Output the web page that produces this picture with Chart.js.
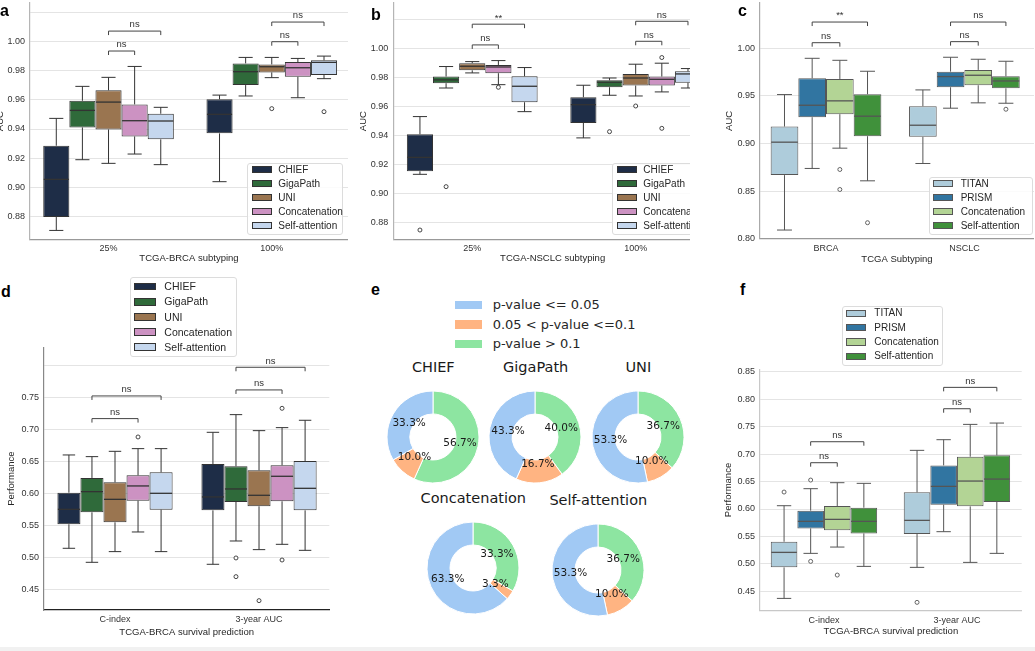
<!DOCTYPE html>
<html><head><meta charset="utf-8">
<script src="https://cdn.jsdelivr.net/npm/chart.js@4.4.1/dist/chart.umd.min.js"></script>
<style>
html,body{margin:0;padding:0;background:#fff;}
#root{position:relative;width:1035px;height:651px;overflow:hidden;background:#fff;font-family:"Liberation Sans",Arial,sans-serif;}
canvas{position:absolute;}
.clip{position:absolute;overflow:hidden;}
.lg{position:absolute;border:1px solid #dcdcdc;border-radius:3px;background:rgba(255,255,255,0.85);box-sizing:border-box;}
.lgrow{position:absolute;white-space:nowrap;color:#262626;}
.sw{position:absolute;box-sizing:border-box;}
.plabel{position:absolute;font-weight:bold;font-size:16px;color:#000;line-height:16px;font-family:"Liberation Sans",Arial,sans-serif;}
.ctext{position:absolute;white-space:nowrap;transform:translate(-50%,-50%);line-height:1.2;color:#1a1a1a;}
</style></head><body><div id="root"></div>
<script>
// ---------------- DATA ----------------
const fmSeries = ['CHIEF','GigaPath','UNI','Concatenation','Self-attention'];
const slideSeries = ['TITAN','PRISM','Concatenation','Self-attention'];

// Panel a: TCGA-BRCA subtyping (per series: [25%, 100%])
const aGroups = ['25%','100%'];
const aLow  = [[0.8703,0.9038],[0.9189,0.9627],[0.9164,0.9753],[0.9228,0.9615],[0.9155,0.9746]];
const aQ1   = [[0.8795,0.9370],[0.9411,0.9702],[0.9397,0.9789],[0.9349,0.9759],[0.9329,0.9771]];
const aMed  = [[0.9054,0.9501],[0.9528,0.9794],[0.9585,0.9828],[0.9457,0.9821],[0.9455,0.9858]];
const aQ3   = [[0.9285,0.9604],[0.9594,0.9851],[0.9666,0.9844],[0.9569,0.9860],[0.9505,0.9872]];
const aHigh = [[0.9473,0.9633],[0.9693,0.9892],[0.9755,0.9892],[0.9830,0.9885],[0.9549,0.9901]];
const aOut  = [[[],[]],[[],[]],[[],[0.9540]],[[],[]],[[],[0.9519]]];
const aTickVals = [0.88,0.90,0.92,0.94,0.96,0.98,1.00,1.02];
const aTickText = ['0.88','0.90','0.92','0.94','0.96','0.98','1.00',''];
const aSig = [[0,2,3,0.9936,'ns'],[0,2,4,1.0073,'ns'],[1,2,3,1.0000,'ns'],[1,2,4,1.0135,'ns']];

// Panel b: TCGA-NSCLC subtyping
const bGroups = ['25%','100%'];
const bLow  = [[0.9131,0.9382],[0.9726,0.9676],[0.9830,0.9671],[0.9749,0.9699],[0.9563,0.9726]];
const bQ1   = [[0.9152,0.9485],[0.9759,0.9731],[0.9848,0.9743],[0.9828,0.9743],[0.9628,0.9763]];
const bMed  = [[0.9248,0.9611],[0.9782,0.9766],[0.9876,0.9795],[0.9871,0.9786],[0.9738,0.9823]];
const bQ3   = [[0.9407,0.9662],[0.9805,0.9779],[0.9897,0.9823],[0.9885,0.9805],[0.9807,0.9841]];
const bHigh = [[0.9529,0.9745],[0.9874,0.9795],[0.9908,0.9890],[0.9915,0.9897],[0.9867,0.9860]];
const bOut  = [[[0.8747],[]],[[0.9046],[0.9425]],[[],[0.9602]],[[0.9731],[0.9936,0.9448]],[[],[]]];
const bTickVals = [0.88,0.90,0.92,0.94,0.96,0.98,1.00,1.02];
const bTickText = ['0.88','0.90','0.92','0.94','0.96','0.98','1.00',''];
const bSig = [[0,2,3,1.0023,'ns'],[0,2,4,1.0166,'**'],[1,2,3,1.0048,'ns'],[1,2,4,1.0186,'ns']];

// Panel c: TCGA Subtyping (slide-level)
const cGroups = ['BRCA','NSCLC'];
const cLow  = [[0.8091,0.8790],[0.8738,0.9371],[0.8951,0.9427],[0.8608,0.9423]];
const cQ1   = [[0.8668,0.9070],[0.9276,0.9591],[0.9308,0.9612],[0.9077,0.9580]];
const cMed  = [[0.9014,0.9192],[0.9402,0.9703],[0.9448,0.9717],[0.9287,0.9657]];
const cQ3   = [[0.9178,0.9392],[0.9685,0.9755],[0.9678,0.9773],[0.9517,0.9706]];
const cHigh = [[0.9514,0.9563],[0.9895,0.9906],[0.9874,0.9885],[0.9759,0.9864]];
const cOut  = [[[],[]],[[],[]],[[0.8727,0.8517],[]],[[0.8168],[0.9360]]];
const cTickVals = [0.80,0.85,0.90,0.95,1.00];
const cTickText = ['0.80','0.85','0.90','0.95','1.00'];
const cSig = [[0,1,2,1.0059,'ns'],[0,1,3,1.0276,'**'],[1,1,2,1.0070,'ns'],[1,1,3,1.0276,'ns']];

// Panel d: TCGA-BRCA survival prediction (patch-level FMs)
const dGroups = ['C-index','3-year AUC'];
const dLow  = [[0.5141,0.4891],[0.4922,0.5255],[0.5089,0.5120],[0.5396,0.5203],[0.5089,0.5109]];
const dQ1   = [[0.5516,0.5734],[0.5703,0.5865],[0.5547,0.5797],[0.5885,0.5875],[0.5745,0.5734]];
const dMed  = [[0.5750,0.5943],[0.6026,0.6068],[0.5906,0.5969],[0.6115,0.6266],[0.6000,0.6078]];
const dQ3   = [[0.6010,0.6458],[0.6240,0.6422],[0.6172,0.6359],[0.6281,0.6438],[0.6328,0.6505]];
const dHigh = [[0.6599,0.6953],[0.6573,0.7229],[0.6656,0.6979],[0.6698,0.7026],[0.6698,0.7141]];
const dOut  = [[[],[]],[[],[0.4990,0.4698]],[[],[0.4323]],[[0.6880],[0.7328,0.4958]],[[],[]]];
const dTickVals = [0.45,0.50,0.55,0.60,0.65,0.70,0.75,0.80];
const dTickText = ['0.45','0.50','0.55','0.60','0.65','0.70','0.75',''];
const dSig = [[0,1,3,0.7167,'ns'],[0,1,4,0.7521,'ns'],[1,1,3,0.7615,'ns'],[1,1,4,0.7969,'ns']];

// Panel e: p-value shares (%)
const eModels = ['CHIEF','GigaPath','UNI','Concatenation','Self-attention'];
const eCats = ['p-value <= 0.05','0.05 < p-value <=0.1','p-value > 0.1'];
const eSig05 = [33.3,43.3,53.3,63.3,53.3];
const eSig10 = [10.0,16.7,10.0,3.3,10.0];
const eNonSig = [56.7,40.0,36.7,33.3,36.7];

// Panel f: TCGA-BRCA survival prediction (slide-level FMs)
const fGroups = ['C-index','3-year AUC'];
const fLow  = [[0.4372,0.4937],[0.5192,0.5587],[0.5307,0.5028],[0.4955,0.5192]];
const fQ1   = [[0.4937,0.5544],[0.5647,0.6078],[0.5611,0.6048],[0.5556,0.6127]];
const fMed  = [[0.5210,0.5793],[0.5775,0.6412],[0.5811,0.6509],[0.5775,0.6545]];
const fQ3   = [[0.5404,0.6303],[0.5969,0.6794],[0.6054,0.6952],[0.6024,0.6977]];
const fHigh = [[0.6060,0.7068],[0.6370,0.7262],[0.6479,0.7541],[0.6467,0.7565]];
const fOut  = [[[0.6309],[0.4300]],[[0.6527,0.5046],[]],[[0.4797],[]],[[],[]]];
const fTickVals = [0.45,0.50,0.55,0.60,0.65,0.70,0.75,0.80,0.85];
const fTickText = ['0.45','0.50','0.55','0.60','0.65','0.70','0.75','0.80','0.85'];
const fSig = [[0,1,2,0.6843,'ns'],[0,1,3,0.7225,'ns'],[1,1,2,0.7826,'ns'],[1,1,3,0.8215,'ns']];

// ---------------- STYLE ----------------
const FONT = '"Liberation Sans", Arial, Helvetica, sans-serif';
const DJ = '"DejaVu Sans", Verdana, sans-serif';
const fmColors = ['#1e2d47','#2f6a3a','#9a7550','#cc92c2','#c5d7ee'];
const slideColors = ['#aeccdb','#3175a1','#b3d495','#40913b'];
const eColors = ['#a1c9f4','#ffb482','#8de5a1'];

const root = document.getElementById('root');

function addCanvas(parent, x, y, w, h){
  const c = document.createElement('canvas');
  c.width = w; c.height = h;
  Object.assign(c.style,{left:x+'px',top:y+'px',width:w+'px',height:h+'px'});
  parent.appendChild(c);
  return c;
}

function boxPlugin(o){
  return {id:'boxes', afterDatasetsDraw(chart){
    const ctx = chart.ctx, ys = chart.scales.y;
    const py = v => ys.getPixelForValue(v);
    ctx.save();
    o.series.forEach((n,k)=>{
      chart.getDatasetMeta(k).data.forEach((el,j)=>{
        const p = el.getProps(['x','width'], true);
        const x = p.x, w = p.width, cap = w*0.27;
        const hi = py(o.high[k][j]), lo = py(o.low[k][j]), q1 = py(o.q1[k][j]), q3 = py(o.q3[k][j]);
        ctx.strokeStyle = o.line; ctx.lineWidth = 1;
        ctx.beginPath();
        ctx.moveTo(x,q3); ctx.lineTo(x,hi);
        ctx.moveTo(x,q1); ctx.lineTo(x,lo);
        ctx.moveTo(x-cap,hi); ctx.lineTo(x+cap,hi);
        ctx.moveTo(x-cap,lo); ctx.lineTo(x+cap,lo);
        ctx.stroke();
        const m = py(o.med[k][j]);
        ctx.lineWidth = 1.3;
        ctx.beginPath(); ctx.moveTo(x-w/2+0.5,m); ctx.lineTo(x+w/2-0.5,m); ctx.stroke();
        ctx.lineWidth = 0.9;
        o.out[k][j].forEach(v=>{
          ctx.beginPath(); ctx.arc(x,py(v),2,0,Math.PI*2);
          ctx.fillStyle='#fff'; ctx.fill(); ctx.stroke();
        });
      });
    });
    ctx.strokeStyle = '#444'; ctx.lineWidth = 1; ctx.fillStyle = '#333';
    ctx.font = '9.5px '+FONT; ctx.textAlign = 'center'; ctx.textBaseline = 'bottom';
    o.sig.forEach(s=>{
      const g=s[0], h1=s[1], h2=s[2], v=s[3], t=s[4];
      const x1 = chart.getDatasetMeta(h1).data[g].x, x2 = chart.getDatasetMeta(h2).data[g].x, y = py(v);
      ctx.beginPath(); ctx.moveTo(x1,y+4); ctx.lineTo(x1,y); ctx.lineTo(x2,y); ctx.lineTo(x2,y+4); ctx.stroke();
      ctx.fillText(t,(x1+x2)/2,y-1.5);
    });
    ctx.restore();
  }};
}

function boxPanel(o){
  const cv = addCanvas(o.parent, o.x, o.y, o.w, o.h);
  const datasets = o.series.map((name,k)=>({
    type:'bar', label:name,
    data:o.groups.map((g,j)=>({x:j, y:[o.q1[k][j], o.q3[k][j]]})),
    backgroundColor:o.colors[k], borderColor:o.line, borderWidth:1, borderSkipped:false,
    categoryPercentage:0.8, barPercentage:1.0
  }));
  new Chart(cv,{
    type:'bar',
    data:{datasets},
    options:{
      responsive:false, animation:false, events:[],
      layout:{padding:{top:o.padTop,right:o.padRight,left:0,bottom:0}},
      plugins:{legend:{display:false},tooltip:{enabled:false}},
      scales:{
        x:{type:'linear', min:o.xmin, max:o.xmax, offset:false,
          afterBuildTicks:s=>{s.ticks=o.groups.map((g,j)=>({value:j}));},
          afterFit:s=>{s.height=o.xH; s.paddingLeft=0; s.paddingRight=0;},
          ticks:{callback:(v)=>o.groups[v], padding:4, autoSkip:false, maxRotation:0,
                 font:{family:FONT,size:9}, color:'#333'},
          grid:{color:'rgba(0,0,0,0)', drawTicks:false},
          border:{color:o.xSpine, width:1.2},
          title:{display:true, text:o.xTitle, color:'#262626', font:{family:FONT,size:9.5},
                 padding:{top:0,bottom:o.xTitlePad}}
        },
        y:{type:'linear', min:o.ymin, max:o.ymax,
          afterBuildTicks:s=>{s.ticks=o.tickVals.map(v=>({value:v}));},
          afterFit:s=>{s.width=o.yW; s.paddingTop=0; s.paddingBottom=0;},
          ticks:{callback:(v,i)=>o.tickText[i], padding:5, autoSkip:false,
                 font:{family:FONT,size:9}, color:'#333'},
          grid:{color:'#e4e4e4', lineWidth:1, drawTicks:false},
          border:{color:o.ySpine, width:1.2},
          title:{display:true, text:o.yTitle, color:'#262626', font:{family:FONT,size:9.5},
                 padding:{top:o.yTitlePad,bottom:0}}
        }
      }
    },
    plugins:[boxPlugin(o)]
  });
}

function legend(parent, L){
  const d = document.createElement('div');
  d.className = 'lg';
  Object.assign(d.style,{left:L.x+'px',top:L.y+'px',width:L.w+'px',height:L.h+'px'});
  const off = L.noBorder ? 0 : 1;
  if (L.noBorder){ d.style.border='none'; d.style.background='transparent'; }
  L.names.forEach((n,i)=>{
    const cy = L.row0 + i*L.step - L.y - off;
    const sw = document.createElement('div'); sw.className='sw';
    Object.assign(sw.style,{left:(L.swX-L.x-off)+'px',top:(cy-L.swH/2)+'px',width:L.swW+'px',height:L.swH+'px',
      background:L.colors[i], border:L.swBorder});
    const t = document.createElement('div'); t.className='lgrow'; t.textContent=n;
    Object.assign(t.style,{left:(L.txX-L.x-off)+'px',top:(cy-L.fs*0.6)+'px',height:(L.fs*1.2)+'px',
      lineHeight:(L.fs*1.2)+'px',fontSize:L.fs+'px',fontFamily:L.font});
    d.appendChild(sw); d.appendChild(t);
  });
  parent.appendChild(d);
}

function ctext(parent, txt, x, y, size, family){
  const t = document.createElement('div'); t.className='ctext'; t.textContent=txt;
  Object.assign(t.style,{left:x+'px',top:y+'px',fontSize:size+'px',fontFamily:family});
  parent.appendChild(t);
}

function plabel(txt, x, y){
  const t = document.createElement('div'); t.className='plabel'; t.textContent=txt;
  Object.assign(t.style,{left:x+'px',top:y+'px'});
  root.appendChild(t);
}

// ---------------- PANEL a ----------------
boxPanel({parent:root, x:-10, y:0, w:358, h:266, yW:40, xH:26.7, padTop:3, padRight:0,
  xmin:-0.481, xmax:1.467, ymin:0.8642, ymax:1.0266,
  groups:aGroups, series:fmSeries, colors:fmColors, line:'#333',
  low:aLow, q1:aQ1, med:aMed, q3:aQ3, high:aHigh, out:aOut, sig:aSig,
  tickVals:aTickVals, tickText:aTickText, xTitle:'TCGA-BRCA subtyping', yTitle:'AUC',
  yTitlePad:4.8, xTitlePad:2, xSpine:'#999', ySpine:'#b5b5b5'});
legend(root,{x:247.3,y:162.7,w:96,h:72.3,names:fmSeries,colors:fmColors,row0:170,step:14,
  swX:251.7,swW:20,swH:7,txX:278.3,fs:10,font:FONT,swBorder:'1px solid #333'});

// ---------------- PANEL b (clipped at panel c) ----------------
const bClip = document.createElement('div'); bClip.className='clip';
Object.assign(bClip.style,{left:'0px',top:'0px',width:'690px',height:'280px'});
root.appendChild(bClip);
boxPanel({parent:bClip, x:352, y:0, w:360, h:266, yW:41.3, xH:26.7, padTop:3, padRight:0,
  xmin:-0.483, xmax:1.467, ymin:0.8683, ymax:1.0312,
  groups:bGroups, series:fmSeries, colors:fmColors, line:'#333',
  low:bLow, q1:bQ1, med:bMed, q3:bQ3, high:bHigh, out:bOut, sig:bSig,
  tickVals:bTickVals, tickText:bTickText, xTitle:'TCGA-NSCLC subtyping', yTitle:'AUC',
  yTitlePad:5.6, xTitlePad:2, xSpine:'#999', ySpine:'#b5b5b5'});
legend(bClip,{x:611.7,y:162.7,w:96,h:72.3,names:fmSeries,colors:fmColors,row0:170,step:14,
  swX:616.7,swW:20,swH:7,txX:643.3,fs:10,font:FONT,swBorder:'1px solid #333'});

// ---------------- PANEL c ----------------
boxPanel({parent:root, x:718, y:0, w:316, h:266, yW:42, xH:27.3, padTop:3, padRight:0,
  xmin:-0.477, xmax:1.503, ymin:0.80, ymax:1.0476,
  groups:cGroups, series:slideSeries, colors:slideColors, line:'#555',
  low:cLow, q1:cQ1, med:cMed, q3:cQ3, high:cHigh, out:cOut, sig:cSig,
  tickVals:cTickVals, tickText:cTickText, xTitle:'TCGA Subtyping', yTitle:'AUC',
  yTitlePad:5.6, xTitlePad:1.3, xSpine:'#999', ySpine:'#aaa'});
legend(root,{x:929.3,y:176.7,w:103.4,h:58.3,names:slideSeries,colors:slideColors,row0:184,step:14,
  swX:933.3,swW:20,swH:7,txX:960.7,fs:10,font:FONT,swBorder:'1px solid #555'});

// ---------------- PANEL d ----------------
boxPanel({parent:root, x:0, y:340, w:330, h:300, yW:44, xH:30, padTop:7.3, padRight:0.7,
  xmin:-0.493, xmax:1.488, ymin:0.4177, ymax:0.8281,
  groups:dGroups, series:fmSeries, colors:fmColors, line:'#333',
  low:dLow, q1:dQ1, med:dMed, q3:dQ3, high:dHigh, out:dOut, sig:dSig,
  tickVals:dTickVals, tickText:dTickText, xTitle:'TCGA-BRCA survival prediction', yTitle:'Performance',
  yTitlePad:5.3, xTitlePad:2, xSpine:'#222', ySpine:'#888'});
legend(root,{x:130,y:276.7,w:107.3,h:80.6,names:fmSeries,colors:fmColors,row0:286.7,step:15.1,
  swX:134.3,swW:21.4,swH:7.5,txX:164.3,fs:10.5,font:FONT,swBorder:'1px solid #333'});

// ---------------- PANEL f ----------------
boxPanel({parent:root, x:715, y:360, w:315, h:280, yW:45, xH:29.3, padTop:9.3, padRight:8.3,
  xmin:-0.481, xmax:1.487, ymin:0.4148, ymax:0.8544,
  groups:fGroups, series:slideSeries, colors:slideColors, line:'#555',
  low:fLow, q1:fQ1, med:fMed, q3:fQ3, high:fHigh, out:fOut, sig:fSig,
  tickVals:fTickVals, tickText:fTickText, xTitle:'TCGA-BRCA survival prediction', yTitle:'Performance',
  yTitlePad:7.6, xTitlePad:2.6, xSpine:'#c8c8c8', ySpine:'#c8c8c8'});
legend(root,{x:841.7,y:306,w:101.6,h:59.7,names:slideSeries,colors:slideColors,row0:313.3,step:14.33,
  swX:845.7,swW:20.3,swH:7.5,txX:874.3,fs:10,font:FONT,swBorder:'1px solid #555'});

// ---------------- PANEL e ----------------
const pctPlugin = {id:'pct', afterDatasetsDraw(chart){
  const ctx = chart.ctx;
  const ds = chart.data.datasets[0];
  ctx.save();
  ctx.font = '10.5px '+DJ; ctx.fillStyle = '#1a1a1a'; ctx.textAlign='center'; ctx.textBaseline='middle';
  chart.getDatasetMeta(0).data.forEach((el,i)=>{
    const p = el.getProps(['x','y','startAngle','endAngle','outerRadius'], true);
    const mid = (p.startAngle+p.endAngle)/2, r = 0.6*p.outerRadius;
    ctx.fillText(ds.data[i].toFixed(1)+'%', p.x+Math.cos(mid)*r, p.y+Math.sin(mid)*r);
  });
  ctx.restore();
}};

const eLayout = [[432.5,437,433.3,368.3],[535.2,437,535.7,368.3],[638.2,437,638.3,368.3],
                 [473.3,568.2,473.3,499.3],[598.2,569.8,598.3,500.7]];
eModels.forEach((m,i)=>{
  const L = eLayout[i];
  const c = addCanvas(root, L[0]-50, L[1]-50, 100, 100);
  // drawn clockwise from 12 o'clock, so order reversed to mimic counter-clockwise layout
  new Chart(c,{type:'doughnut',
    data:{labels:eCats.slice().reverse(),
      datasets:[{data:[eNonSig[i],eSig10[i],eSig05[i]],
        backgroundColor:eColors.slice().reverse(), borderColor:'#ffffff', borderWidth:1}]},
    options:{responsive:false, animation:false, events:[], radius:46, cutout:'50%',
      layout:{padding:0}, plugins:{legend:{display:false},tooltip:{enabled:false}}},
    plugins:[pctPlugin]});
  ctext(root, m, L[2], L[3], 14.5, DJ);
});
legend(root,{x:450,y:295,w:240,h:60,names:eCats,colors:eColors,row0:305,step:19.5,
  swX:455,swW:26.7,swH:8.6,txX:492.7,fs:13,font:DJ,swBorder:'none',noBorder:true});

// ---------------- panel letters & footer ----------------
plabel('a',0,3); plabel('b',371,7); plabel('c',738,3);
plabel('d',1,284); plabel('e',371,281.5); plabel('f',740,281.5);
const foot = document.createElement('div');
Object.assign(foot.style,{position:'absolute',left:'0px',top:'647px',width:'1035px',height:'4px',background:'#f1f1f1'});
root.appendChild(foot);
</script></body></html>
